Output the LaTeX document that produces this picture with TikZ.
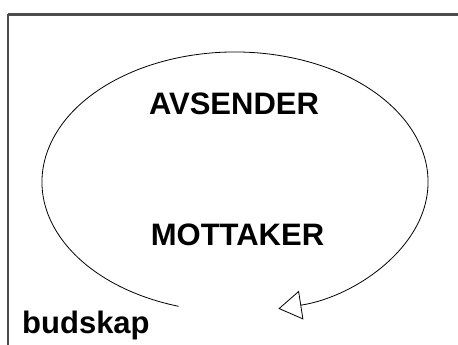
\documentclass[tikz,border=0pt]{standalone}
\usepackage{fontspec}
\setmainfont{Liberation Sans}
\usetikzlibrary{arrows.meta}
\begin{document}
\begin{tikzpicture}[x=1pt,y=1pt,
  lbl/.style={font=\fontsize{31}{34}\selectfont\bfseries, inner sep=0pt},
  loopline/.style={line width=0.8pt, -{Triangle[open, length=23pt, width=29pt]}},
  frame/.style={line width=2.4pt, draw=black!70}]
\clip (0,0) rectangle (458,345);
\fill[white] (0,0) rectangle (458,345);
\useasboundingbox (0,0) rectangle (458,345);
\draw[frame] (8,330.5) -- (470,330.5) (8,330.5) -- (8,-10);
\node[lbl] (avs) at (234,241.5) {AVSENDER};
\node[lbl] (mot) at (237.5,110) {MOTTAKER};
\node[lbl, anchor=base west] (bud) at (22,11) {budskap};
\coordinate (c) at (235,163);
\draw[loopline] ([shift={(253:193 and 130)}]c) arc[start angle=253, end angle=-77, x radius=193, y radius=130];
\end{tikzpicture}
\end{document}
